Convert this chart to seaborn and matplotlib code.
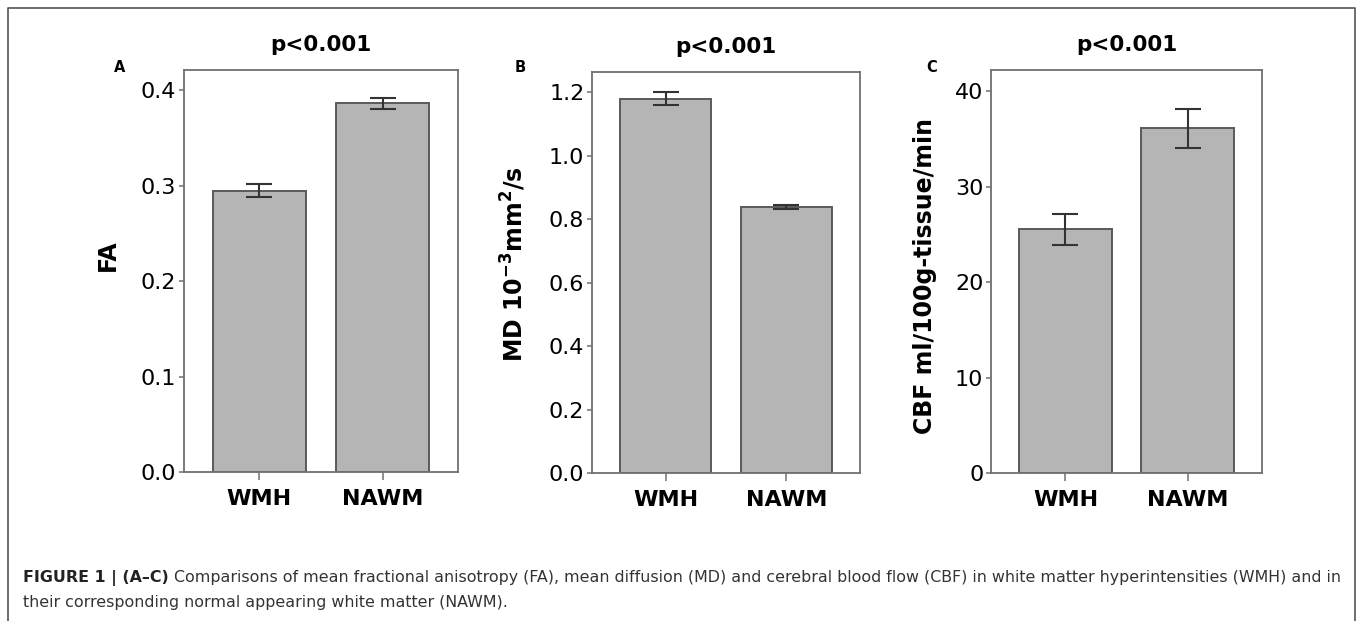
import numpy as np
import pandas as pd
import matplotlib
matplotlib.use('Agg')
import matplotlib.pyplot as plt
from matplotlib.lines import Line2D
import seaborn as sns

# Data (means and error bar half-lengths)
GROUPS = ['WMH', 'NAWM']
FA_MEAN = [0.2946, 0.386]
FA_ERR = [0.0067, 0.0055]
MD_MEAN = [1.179, 0.839]
MD_ERR = [0.020, 0.006]
CBF_MEAN = [25.5, 36.1]
CBF_ERR = [1.6, 2.05]

FA_TICKS = [0.0, 0.1, 0.2, 0.3, 0.4]
MD_TICKS = [0.0, 0.2, 0.4, 0.6, 0.8, 1.0, 1.2]
CBF_TICKS = [0, 10, 20, 30, 40]

TITLE = 'p<0.001'
CAPTION_BOLD = 'FIGURE 1 | (A\u2013C)'
CAPTION_1 = (' Comparisons of mean fractional anisotropy (FA), mean diffusion (MD) '
             'and cerebral blood flow (CBF) in white matter hyperintensities (WMH) and in')
CAPTION_2 = 'their corresponding normal appearing white matter (NAWM).'

# Figure size in pixels
W, H = 1358, 621

BAR_FILL = '#b5b5b5'
BAR_EDGE = '#5a5a5a'
SPINE = '#707070'

sns.set_style('ticks')
plt.rcParams['font.family'] = ['DejaVu Sans']
plt.rcParams['text.color'] = 'black'
plt.rcParams['axes.labelcolor'] = 'black'
plt.rcParams['xtick.labelcolor'] = 'black'
plt.rcParams['ytick.labelcolor'] = 'black'
plt.rcParams['mathtext.fontset'] = 'custom'
plt.rcParams['mathtext.rm'] = 'DejaVu Sans:bold'
plt.rcParams['mathtext.bf'] = 'DejaVu Sans:bold'
plt.rcParams['mathtext.default'] = 'bf'


def px_box(left, right, top, bottom):
    # Convert pixel box to figure fraction [l, b, w, h]
    return [left / W, 1 - bottom / H, (right - left) / W, (bottom - top) / H]


def bar_panel(fig, box, means, errs, ticks, ylim, fmt, ylabel, label_x, label_y,
              letter, letter_xy):

    ax = fig.add_axes(px_box(*box))
    df = pd.DataFrame({'group': GROUPS, 'value': means})

    # Bars
    sns.barplot(data=df, x='group', y='value', color=BAR_FILL, saturation=1,
                edgecolor=BAR_EDGE, linewidth=1.4, width=0.755, errorbar=None,
                ax=ax)

    # Error bars
    ax.errorbar(np.arange(len(GROUPS)), means, yerr=errs, fmt='none',
                ecolor='#333333', elinewidth=1.5, capsize=9.5, capthick=1.5,
                zorder=5)

    # Axes formatting
    ax.set_xlim(-0.61, 1.61)
    ax.set_ylim(*ylim)
    ax.set_yticks(ticks)
    ax.set_yticklabels([format(t, fmt) for t in ticks])
    ax.set_xlabel('')
    ax.set_ylabel(ylabel, fontsize=17, weight='bold')
    ax.yaxis.set_label_coords(label_x, label_y)
    ax.tick_params(axis='y', labelsize=16, length=3.5, width=1.1,
                   color=SPINE, pad=2)
    ax.tick_params(axis='x', labelsize=16, length=6, width=1.1,
                   color=SPINE, pad=6)
    for lab in ax.get_xticklabels():
        lab.set_fontweight('bold')
    for side in ['left', 'right', 'top', 'bottom']:
        ax.spines[side].set_color(SPINE)
        ax.spines[side].set_linewidth(1.3)
    ax.set_title(TITLE, fontsize=15.5, weight='bold', pad=14)

    # Panel letter
    fig.text(letter_xy[0] / W, 1 - letter_xy[1] / H, letter, fontsize=10.5,
             weight='bold', ha='center', va='center')
    return ax


def main():

    fig = plt.figure(figsize=(W / 100, H / 100), dpi=100)

    bar_panel(fig, (184, 458, 70, 472), FA_MEAN, FA_ERR, FA_TICKS,
              (0, 0.421), '.1f', 'FA', -0.235, 0.54, 'A', (120, 67))
    bar_panel(fig, (592, 860, 72, 473), MD_MEAN, MD_ERR, MD_TICKS,
              (0, 1.263), '.1f', r'MD 10$^{-3}$mm$^{2}$/s', -0.24, 0.52,
              'B', (520, 67))
    bar_panel(fig, (991, 1262, 70, 473), CBF_MEAN, CBF_ERR, CBF_TICKS,
              (0, 42.2), 'd', 'CBF ml/100g-tissue/min', -0.2, 0.49,
              'C', (932, 67))

    # Outer frame (open at the bottom)
    fx0, fx1, fy = 8 / W, 1355 / W, 1 - 8 / H
    fig.add_artist(Line2D([fx0, fx0, fx1, fx1], [0, fy, fy, 0],
                          transform=fig.transFigure, color='#555555', lw=1.2))

    # Caption, bold lead followed by regular text
    y1, y2 = 1 - 582 / H, 1 - 607 / H
    t = fig.text(23 / W, y1, CAPTION_BOLD, fontsize=11.4, weight='bold',
                 color='#222222', va='baseline')
    fig.canvas.draw()
    bb = t.get_window_extent(renderer=fig.canvas.get_renderer())
    fig.text(bb.x1 / W, y1, CAPTION_1, fontsize=11.4, color='#333333',
             va='baseline')
    fig.text(23 / W, y2, CAPTION_2, fontsize=11.4, color='#333333',
             va='baseline')

    fig.savefig('out.png', dpi=100)
    plt.close(fig)


if __name__ == '__main__':
    main()
